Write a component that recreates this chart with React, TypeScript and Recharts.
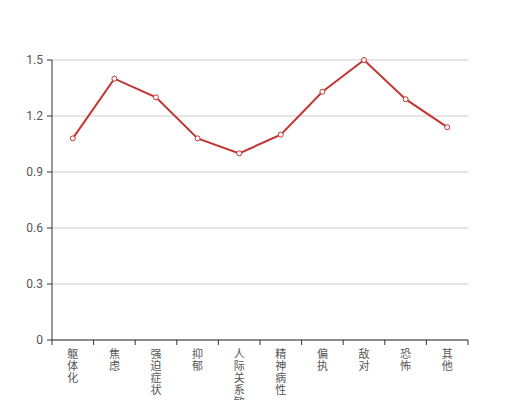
import { LineChart, Line, XAxis, YAxis, CartesianGrid } from "recharts";

const CATEGORIES = ["躯体化", "焦虑", "强迫症状", "抑郁", "人际关系敏感", "精神病性", "偏执", "敌对", "恐怖", "其他"];
const SCORES = [1.08, 1.4, 1.3, 1.08, 1.0, 1.1, 1.33, 1.5, 1.29, 1.14];
const Y_TICKS = [0, 0.3, 0.6, 0.9, 1.2, 1.5];

const data = CATEGORIES.map((name, i) => ({ name, score: SCORES[i] }));

const FONT = "Roboto, 'Noto Sans CJK SC', sans-serif";
const LINE = "#c23531";
const AXIS = "#333";
const LABEL = "#555";

// vertical label (one char per line) plus tick marks on band boundaries
const VerticalTick = (props: any) => {
  const { x, y, payload, index, width, visibleTicksCount } = props;
  const step = width / visibleTicksCount;
  const axisY = y - 8;
  const chars = String(payload.value).split("");
  return (
    <g>
      <line x1={x - step / 2} y1={axisY} x2={x - step / 2} y2={axisY + 5} stroke={AXIS} />
      {index === visibleTicksCount - 1 && (
        <line x1={x + step / 2} y1={axisY} x2={x + step / 2} y2={axisY + 5} stroke={AXIS} />
      )}
      <text x={x} y={y} textAnchor="middle" fill={LABEL} fontSize={11} fontFamily={FONT}>
        {chars.map((c, i) => (
          <tspan key={i} x={x} dy={i === 0 ? 10 : 12}>
            {c}
          </tspan>
        ))}
      </text>
    </g>
  );
};

export default function App() {
  return (
    <div style={{ position: "absolute", left: 0, top: 0, width: 520, height: 400, background: "#fff" }}>
      <LineChart width={520} height={400} data={data} margin={{ top: 60, right: 52, left: 0, bottom: 0 }}>
        <CartesianGrid stroke="#ccc" vertical={false} />
        <XAxis
          dataKey="name"
          scale="band"
          interval={0}
          height={60}
          stroke={AXIS}
          tickLine={false}
          tickSize={5}
          tickMargin={3}
          tick={<VerticalTick />}
        />
        <YAxis
          domain={[0, 1.5]}
          ticks={Y_TICKS}
          width={52}
          stroke={AXIS}
          tickSize={5}
          tickMargin={4}
          tick={{ fontSize: 12, fill: LABEL, fontFamily: FONT }}
        />
        <Line
          type="linear"
          dataKey="score"
          stroke={LINE}
          strokeWidth={2}
          dot={{ r: 2.5, fill: "#fff", stroke: LINE, strokeWidth: 1 }}
          isAnimationActive={false}
        />
      </LineChart>
    </div>
  );
}
